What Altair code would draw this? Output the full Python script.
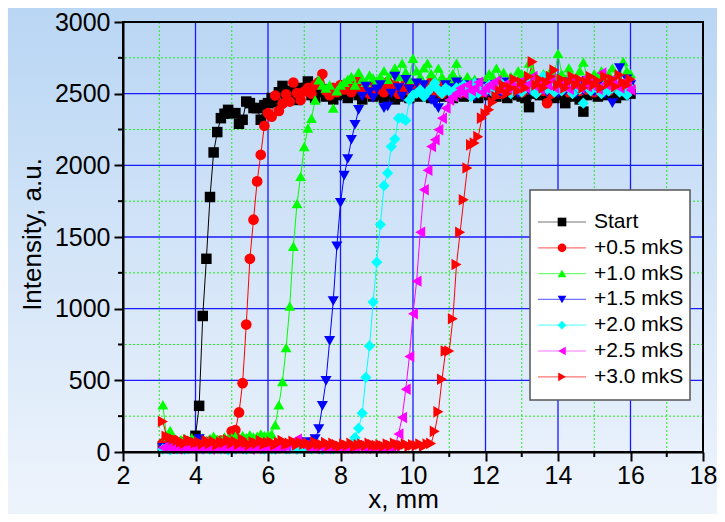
import altair as alt
import pandas as pd

FONT = "Liberation Sans"

# sampling positions along x (mm), one point every 0.1 mm from 3.1 to 16.0
x_mm = [round(3.1 + 0.1 * i, 1) for i in range(130)]

series_names = ["Start", "+0.5 mkS", "+1.0 mkS", "+1.5 mkS", "+2.0 mkS", "+2.5 mkS", "+3.0 mkS"]
series_colors = ["#000000", "#ff0000", "#00ff00", "#0000ff", "#00ffff", "#ff00ff", "#ff0000"]
series_shapes = ["square", "circle", "triangle-up", "triangle-down", "diamond", "triangle-left", "triangle-right"]
series_sizes = [110, 135, 200, 200, 170, 200, 200]

start = [
    40, 35, 30, 45, 28, 36, 30, 42, 38, 113,
    322, 949, 1348, 1779, 2090, 2232, 2329, 2360, 2387, 2364,
    2364, 2290, 2318, 2445, 2434, 2400, 2399, 2318, 2420, 2434,
    2470, 2440, 2510, 2554, 2480, 2520, 2500, 2456, 2540, 2520,
    2585, 2490, 2470, 2510, 2530, 2480, 2500, 2460, 2490, 2520,
    2500, 2470, 2510, 2530, 2490, 2460, 2500, 2520, 2480, 2510,
    2490, 2470, 2520, 2500, 2460, 2480, 2530, 2500, 2470, 2490,
    2510, 2480, 2520, 2490, 2470, 2510, 2500, 2480, 2520, 2490,
    2470, 2500, 2510, 2480, 2530, 2490, 2500, 2470, 2510, 2520,
    2490, 2510, 2480, 2500, 2520, 2470, 2500, 2510, 2490, 2480,
    2470, 2406, 2500, 2520, 2490, 2510, 2480, 2500, 2470, 2510,
    2490, 2434, 2500, 2480, 2520, 2460, 2375, 2490, 2510, 2500,
    2480, 2510, 2490, 2520, 2500, 2470, 2510, 2490, 2530, 2500,
]
plus05 = [
    60, 75, 50, 85, 45, 70, 40, 65, 55, 50,
    60, 45, 70, 40, 65, 55, 80, 50, 60, 144,
    153, 276, 480, 889, 1348, 1621, 1888, 2074, 2276, 2364,
    2340, 2487, 2380, 2430, 2496, 2445, 2578, 2504, 2456, 2515,
    2540, 2500, 2560, 2580, 2637, 2520, 2490, 2540, 2510, 2560,
    2530, 2570, 2510, 2550, 2590, 2520, 2540, 2500, 2560, 2530,
    2550, 2510, 2580, 2530, 2560, 2500, 2540, 2570, 2520, 2550,
    2530, 2560, 2510, 2540, 2580, 2520, 2550, 2500, 2570, 2530,
    2560, 2520, 2540, 2510, 2580, 2530, 2550, 2570, 2510, 2540,
    2520, 2560, 2530, 2500, 2550, 2570, 2520, 2540, 2560, 2510,
    2540, 2530, 2570, 2510, 2550, 2520, 2434, 2500, 2540, 2580,
    2530, 2550, 2510, 2560, 2540, 2520, 2570, 2530, 2550, 2510,
    2560, 2530, 2540, 2520, 2570, 2550, 2530, 2560, 2510, 2540,
]
plus10 = [
    330, 110, 150, 90, 70, 85, 95, 80, 100, 90,
    85, 100, 75, 95, 110, 90, 80, 105, 95, 100,
    110, 90, 115, 100, 120, 105, 110, 125, 115, 120,
    125, 190, 329, 492, 728, 1018, 1436, 1733, 1923, 2131,
    2260, 2329, 2456, 2596, 2560, 2540, 2561, 2399, 2520, 2561,
    2580, 2600, 2620, 2560, 2650, 2600, 2580, 2630, 2610, 2590,
    2620, 2660, 2600, 2640, 2680, 2620, 2713, 2650, 2600, 2747,
    2660, 2620, 2680, 2713, 2640, 2600, 2678, 2620, 2560, 2600,
    2640, 2713, 2600, 2580, 2620, 2560, 2600, 2540, 2526, 2600,
    2640, 2620, 2678, 2600, 2650, 2580, 2620, 2600, 2660, 2640,
    2600, 2713, 2650, 2620, 2580, 2640, 2600, 2660, 2620, 2781,
    2640, 2600, 2680, 2620, 2600, 2660, 2720, 2620, 2580, 2640,
    2620, 2660, 2600, 2640, 2680, 2620, 2600, 2725, 2660, 2640,
]
plus15 = [
    30, 25, 40, 20, 35, 28, 30, 40, 25, 35,
    90, 40, 30, 25, 35, 30, 20, 28, 35, 30,
    25, 30, 35, 22, 28, 30, 25, 35, 30, 28,
    30, 25, 35, 40, 30, 45, 50, 60, 70, 65,
    56, 70, 90, 160, 322, 496, 775, 1053, 1436, 1738,
    1928, 2044, 2178, 2283, 2387, 2480, 2550, 2510, 2470, 2530,
    2560, 2399, 2411, 2500, 2620, 2540, 2480, 2596, 2530, 2500,
    2573, 2510, 2560, 2490, 2456, 2434, 2399, 2520, 2560, 2500,
    2540, 2580, 2510, 2560, 2500, 2530, 2480, 2570, 2520, 2550,
    2510, 2560, 2530, 2500, 2580, 2540, 2520, 2560, 2500, 2540,
    2570, 2520, 2550, 2500, 2540, 2580, 2510, 2560, 2530, 2500,
    2550, 2520, 2580, 2540, 2500, 2560, 2520, 2590, 2540, 2510,
    2560, 2530, 2500, 2550, 2434, 2560, 2678, 2530, 2600, 2560,
]
plus20 = [
    20, 25, 15, 30, 20, 25, 18, 22, 28, 20,
    25, 20, 30, 18, 22, 28, 20, 25, 15, 22,
    20, 28, 22, 18, 25, 20, 30, 22, 18, 25,
    22, 18, 25, 30, 20, 22, 28, 18, 25, 20,
    25, 20, 30, 22, 18, 25, 28, 20, 30, 25,
    30, 40, 56, 100, 165, 271, 520, 740, 1046, 1324,
    1587, 1858, 1946, 2131, 2183, 2329, 2330, 2313, 2456, 2490,
    2503, 2526, 2480, 2510, 2540, 2573, 2526, 2500, 2538, 2520,
    2490, 2540, 2510, 2560, 2530, 2480, 2573, 2503, 2540, 2520,
    2560, 2510, 2540, 2580, 2520, 2550, 2500, 2560, 2530, 2510,
    2540, 2570, 2520, 2500, 2550, 2620, 2530, 2560, 2510, 2540,
    2520, 2560, 2540, 2500, 2570, 2530, 2434, 2550, 2520, 2560,
    2530, 2500, 2560, 2520, 2540, 2580, 2510, 2530, 2491, 2540,
]
plus25 = [
    30, 40, 25, 35, 20, 30, 28, 35, 25, 30,
    25, 35, 30, 20, 28, 35, 25, 30, 22, 28,
    30, 25, 35, 28, 20, 30, 25, 35, 28, 30,
    25, 30, 35, 28, 40, 55, 70, 90, 60, 45,
    35, 30, 25, 40, 30, 25, 35, 28, 30, 25,
    30, 25, 35, 28, 40, 30, 25, 35, 30, 28,
    30, 25, 35, 30, 40, 125, 241, 438, 666, 965,
    1192, 1533, 1830, 1965, 2131, 2178, 2248, 2329, 2399, 2456,
    2480, 2503, 2538, 2500, 2560, 2520, 2540, 2580, 2510, 2538,
    2560, 2550, 2590, 2520, 2560, 2540, 2580, 2530, 2560, 2590,
    2540, 2570, 2620, 2550, 2530, 2580, 2560, 2600, 2540, 2570,
    2550, 2573, 2530, 2590, 2560, 2540, 2600, 2550, 2580, 2560,
    2530, 2644, 2570, 2550, 2600, 2560, 2540, 2580, 2560, 2526,
]
plus30 = [
    213, 110, 100, 90, 80, 70, 60, 85, 75, 65,
    70, 55, 80, 60, 75, 50, 70, 65, 85, 60,
    75, 55, 90, 65, 50, 70, 60, 80, 55, 65,
    70, 50, 65, 80, 55, 60, 75, 50, 65, 55,
    60, 45, 70, 55, 50, 65, 45, 60, 50, 40,
    55, 45, 60, 40, 50, 55, 45, 60, 50, 45,
    50, 40, 55, 45, 60, 50, 45, 55, 40, 50,
    45, 55, 40, 56, 60, 144, 280, 508, 705, 705,
    930, 1308, 1533, 1760, 1981, 2143, 2155, 2200, 2329, 2360,
    2387, 2440, 2480, 2520, 2560, 2500, 2540, 2600, 2520, 2580,
    2540, 2620, 2723, 2560, 2600, 2540, 2580, 2620, 2665, 2560,
    2600, 2540, 2580, 2620, 2560, 2600, 2540, 2580, 2620, 2560,
    2590, 2540, 2620, 2570, 2600, 2550, 2630, 2580, 2560, 2600,
]

all_series = [start, plus05, plus10, plus15, plus20, plus25, plus30]

major_x = [4, 6, 8, 10, 12, 14, 16]
minor_x = [3, 5, 7, 9, 11, 13, 15, 17]
major_y = [500, 1000, 1500, 2000, 2500]
minor_y = [250, 750, 1250, 1750, 2250, 2750]
x_ticks = [2, 4, 6, 8, 10, 12, 14, 16, 18]
y_ticks = [0, 500, 1000, 1500, 2000, 2500, 3000]

rows = []
for k, (name, vals) in enumerate(zip(series_names, all_series)):
    for xv, yv in zip(x_mm, vals):
        rows.append({"series": name, "k": k, "x": xv, "y": yv})
df = pd.DataFrame(rows)

W, H = 580, 430
PAD_B = 62

xscale = alt.Scale(domain=[2, 18], nice=False, zero=False)
yscale = alt.Scale(domain=[0, 3000], nice=False, zero=False)

xaxis = alt.Axis(
    values=x_ticks, format="d", grid=False, domainColor="black", domainWidth=2,
    tickColor="black", tickWidth=2, tickSize=9,
    labelFont=FONT, labelFontSize=25, labelColor="black", labelPadding=2,
    labelFlush=False, labelOverlap=False,
    title="x, mm", titleFont=FONT, titleFontSize=26, titleFontWeight="normal",
    titleColor="black", titleX=280, titleY=55, titleBaseline="alphabetic",
    titleAlign="center", zindex=1,
)
yaxis = alt.Axis(
    values=y_ticks, format="d", grid=False, domainColor="black", domainWidth=2,
    tickColor="black", tickWidth=2, tickSize=9,
    labelFont=FONT, labelFontSize=25, labelColor="black", labelPadding=4,
    labelFlush=False, labelOverlap=False,
    title="Intensity, a.u.", titleFont=FONT, titleFontSize=26,
    titleFontWeight="normal", titleColor="black", titleAngle=270,
    titleX=-83, titleY=212, titleBaseline="alphabetic", titleAlign="center",
    zindex=1,
)


def X(field):
    return alt.X(field, type="quantitative", scale=xscale, axis=xaxis)


def Y(field):
    return alt.Y(field, type="quantitative", scale=yscale, axis=yaxis)


color_enc = alt.Color("series:N", scale=alt.Scale(domain=series_names, range=series_colors), legend=None)
shape_enc = alt.Shape("series:N", scale=alt.Scale(domain=series_names, range=series_shapes), legend=None)
size_enc = alt.Size("series:N", scale=alt.Scale(domain=series_names, range=series_sizes), legend=None)

one = alt.Data(values=[{"a": 1}])

gradient = alt.LinearGradient(
    gradient="linear", x1=0, y1=0, x2=0, y2=1,
    stops=[
        alt.GradientStop(color="#b9d6f4", offset=0),
        alt.GradientStop(color="#d4e5f8", offset=0.5),
        alt.GradientStop(color="#eef4fc", offset=1),
    ],
)

bg = alt.Chart(one).mark_rect(fill=gradient).encode(
    x=alt.value(-115), x2=alt.value(W + 14), y=alt.value(-14), y2=alt.value(H + PAD_B)
)

gmx = alt.Chart(pd.DataFrame({"v": major_x})).mark_rule(color="#1a1aff", strokeWidth=1.3).encode(x=X("v"))
gmy = alt.Chart(pd.DataFrame({"v": major_y})).mark_rule(color="#1a1aff", strokeWidth=1.3).encode(y=Y("v"))
gnx = alt.Chart(pd.DataFrame({"v": minor_x})).mark_rule(color="#22e622", strokeWidth=1, strokeDash=[2, 2]).encode(x=X("v"))
gny = alt.Chart(pd.DataFrame({"v": minor_y})).mark_rule(color="#22e622", strokeWidth=1, strokeDash=[2, 2]).encode(y=Y("v"))

tnx = alt.Chart(pd.DataFrame({"v": minor_x})).mark_rule(color="black", strokeWidth=2).encode(
    x=X("v"), y=alt.value(H), y2=alt.value(H + 5)
)
tny = alt.Chart(pd.DataFrame({"v": minor_y})).mark_rule(color="black", strokeWidth=2).encode(
    y=Y("v"), x=alt.value(-5), x2=alt.value(0)
)

lines = alt.Chart(df).mark_line(strokeWidth=1).encode(
    x=X("x"), y=Y("y"), color=color_enc, order=alt.Order("x:Q")
)
points = alt.Chart(df).mark_point(filled=True, opacity=1).encode(
    x=X("x"), y=Y("y"), color=color_enc, shape=shape_enc, size=size_enc
)

# legend
leg_df = pd.DataFrame({"series": series_names, "i": list(range(len(series_names)))})
leg_base = alt.Chart(leg_df).transform_calculate(
    ly="3000 * (1 - (200 + 25.8 * datum.i) / %d)" % H
)
leg_box = alt.Chart(one).mark_rect(fill="white", stroke="#555555", strokeWidth=1.5).encode(
    x=alt.value(407), x2=alt.value(567), y=alt.value(168), y2=alt.value(378)
)
leg_lines = leg_base.mark_rule(strokeWidth=1.2, opacity=0.55).encode(
    x=alt.value(415), x2=alt.value(463), y=Y("ly:Q"), color=color_enc
)
leg_pts = leg_base.mark_point(filled=True, opacity=1, size=75).encode(
    x=alt.value(439), y=Y("ly:Q"), color=color_enc, shape=shape_enc
)
leg_txt = leg_base.mark_text(
    align="left", baseline="middle", font=FONT, fontSize=21, color="black"
).encode(x=alt.value(471), y=Y("ly:Q"), text="series:N")

frame = alt.Chart(one).mark_rect(fill="transparent", stroke="black", strokeWidth=2).encode(
    x=alt.value(0), x2=alt.value(W), y=alt.value(0), y2=alt.value(H)
)

chart = alt.layer(
    bg, gnx, gny, gmx, gmy, lines, points, tnx, tny,
    leg_box, leg_lines, leg_pts, leg_txt, frame
).properties(
    width=W, height=H,
    autosize=alt.AutoSizeParams(type="none"),
    padding={"left": 115, "top": 14, "right": 14, "bottom": PAD_B},
    background="#d4e5f8",
).configure_view(strokeWidth=0)

chart.save("out.html", embed_options={"renderer": "svg", "actions": False})
